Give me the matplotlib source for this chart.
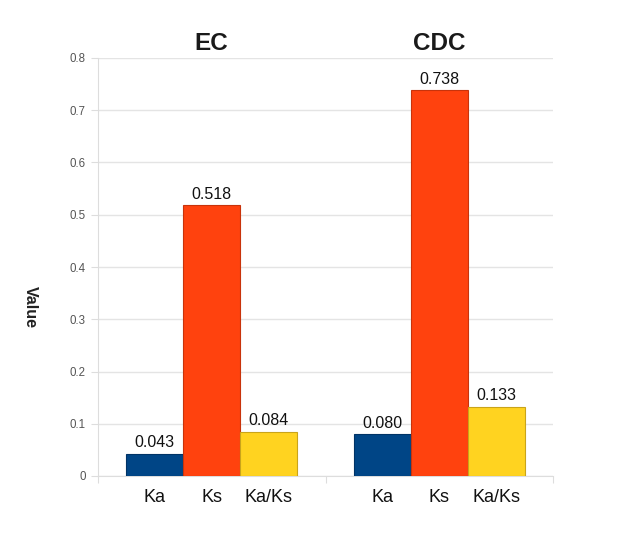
import numpy as np
import matplotlib.pyplot as plt

plt.rcParams['font.family'] = ['Liberation Sans', 'DejaVu Sans']

groups = ['EC', 'CDC']
measures = ['Ka', 'Ks', 'Ka/Ks']
values = {
    'Ka': [0.043, 0.080],
    'Ks': [0.518, 0.738],
    'Ka/Ks': [0.084, 0.133],
}
labels = {
    'Ka': ['0.043', '0.080'],
    'Ks': ['0.518', '0.738'],
    'Ka/Ks': ['0.084', '0.133'],
}
colors = ['#004586', '#ff420e', '#ffd320']
edges = ['#003366', '#c8330b', '#c9a41a']

W, H = 636, 538
fig = plt.figure(figsize=(W / 100, H / 100), dpi=100)
ax = fig.add_axes([98 / W, 1 - 476 / H, 455 / W, 418 / H])

centers = np.arange(len(groups)) + 0.5
width = 0.25
for i, m in enumerate(measures):
    xs = centers + (i - 1) * width
    ax.bar(xs, values[m], width, color=colors[i], edgecolor=edges[i],
           linewidth=0.8, zorder=3)
    for x, v, t in zip(xs, values[m], labels[m]):
        ax.text(x, v + 0.007, t, ha='center', va='bottom', fontsize=11.5,
                color='#111111')
        ax.text(x, -0.042, m, ha='center', va='center', fontsize=13,
                color='#111111')

for c, g in zip(centers, groups):
    ax.text(c, 0.805, g, ha='center', va='bottom', fontsize=17.5,
            fontweight='bold', color='#1a1a1a')

ax.set_xlim(0, 2)
ax.set_ylim(0, 0.8)
ax.set_yticks(np.arange(0, 0.81, 0.1))
ax.set_yticklabels(['0'] + ['%.1f' % v for v in np.arange(0.1, 0.81, 0.1)])
ax.set_xticks([0, 1, 2])
ax.set_xticklabels([])
ax.tick_params(axis='y', length=5, color='#dddddd', labelsize=8.3,
               labelcolor='#555555', pad=4)
ax.tick_params(axis='x', length=5, color='#dddddd')
ax.grid(axis='y', color='#e4e4e4', linewidth=1, zorder=0)
for s in ['top', 'right']:
    ax.spines[s].set_visible(False)
for s in ['left', 'bottom']:
    ax.spines[s].set_color('#dddddd')

fig.text(30 / W, 1 - 307 / H, 'Value', rotation=270, ha='center',
         va='center', fontsize=11.5, fontweight='bold', color='#222222')

fig.savefig('out.png', dpi=100)
